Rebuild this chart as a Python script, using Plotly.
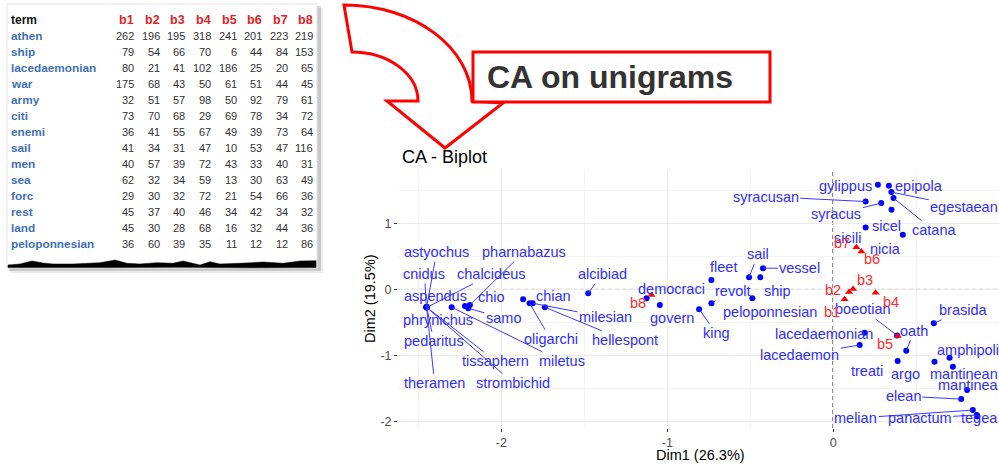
import plotly.graph_objects as go

W, H = 999, 466
FONT = "Liberation Sans, Arial, sans-serif"

# ---------------- table (left) ----------------
terms = ["athen", "ship", "lacedaemonian", "war", "army", "citi", "enemi", "sail",
         "men", "sea", "forc", "rest", "land", "peloponnesian"]
book_cols = ["b1", "b2", "b3", "b4", "b5", "b6", "b7", "b8"]
b1 = [262, 79, 80, 175, 32, 73, 36, 41, 40, 62, 29, 45, 45, 36]
b2 = [196, 54, 21, 68, 51, 70, 41, 34, 57, 32, 30, 37, 30, 60]
b3 = [195, 66, 41, 43, 57, 68, 55, 31, 39, 34, 32, 40, 28, 39]
b4 = [318, 70, 102, 50, 98, 29, 67, 47, 72, 59, 72, 46, 68, 35]
b5 = [241, 6, 186, 61, 50, 69, 49, 10, 43, 13, 21, 34, 16, 11]
b6 = [201, 44, 25, 51, 92, 78, 39, 53, 33, 30, 54, 42, 32, 12]
b7 = [223, 84, 20, 44, 79, 34, 73, 47, 40, 63, 66, 34, 44, 12]
b8 = [219, 153, 65, 45, 61, 72, 64, 116, 31, 49, 36, 32, 36, 86]

# ---------------- CA biplot ----------------
row_terms = ["astyochus", "cnidus", "chalcideus", "aspendus", "phrynichus", "pedaritus",
             "theramen", "tissaphern", "strombichid", "miletus", "pharnabazus", "chio",
             "samo", "chian", "oligarchi", "milesian", "hellespont", "alcibiad",
             "democraci", "govern", "fleet", "revolt", "king", "peloponnesian", "sail",
             "ship", "vessel", "syracusan", "gylippus", "epipola", "syracus", "egestaean",
             "catana", "sicel", "sicili", "nicia", "boeotian", "lacedaemonian",
             "lacedaemon", "oath", "brasida", "treati", "argo", "amphipoli", "mantinean",
             "mantinea", "elean", "melian", "panactum", "tegea"]
row_dim1 = [-2.451, -2.452, -2.450, -2.451, -2.452, -2.450, -2.451, -2.450, -2.452, -2.300,
            -2.190, -2.220, -2.200, -1.869, -1.830, -1.812, -1.738, -1.477,
            -1.125, -1.045, -0.734, -0.734, -0.808, -0.487, -0.507,
            -0.439, -0.423, 0.196, 0.270, 0.336, 0.290, 0.351,
            0.364, 0.352, 0.196, 0.420, 0.386, 0.190,
            0.160, 0.441, 0.607, 0.389, 0.611, 0.702, 0.722,
            0.808, 0.772, 0.842, 0.866, 0.870]
row_dim2 = [-0.270, -0.268, -0.272, -0.270, -0.271, -0.269, -0.270, -0.271, -0.269, -0.270,
            -0.235, -0.250, -0.285, -0.149, -0.209, -0.209, -0.270, -0.058,
            -0.134, -0.235, 0.144, -0.209, -0.300, -0.134, 0.185,
            0.185, 0.322, 1.332, 1.586, 1.571, 1.308, 1.475,
            1.384, 1.206, 0.938, 0.827, -0.698, -0.656,
            -0.842, -0.929, -0.513, -1.085, -1.096, -1.035, -1.171,
            -1.525, -1.662, -1.829, -1.904, -1.927]

col_dim1 = [0.069, 0.096, 0.120, 0.256, 0.390, 0.170, 0.140, -1.095]
col_dim2 = [-0.149, -0.038, 0.008, -0.049, -0.706, 0.574, 0.640, -0.083]

# label placement (repel-like offsets in pixels, +y is down) and whether a segment is drawn
row_label_layout = {
    "astyochus": (10, -55, True), "cnidus": (-2, -33, True), "chalcideus": (65, -33, True),
    "aspendus": (9, -11, False), "phrynichus": (12, 13, False), "pedaritus": (7, 34, True),
    "theramen": (8, 76, True), "tissaphern": (69, 54, True), "strombichid": (87, 76, True),
    "miletus": (110, 54, True), "pharnabazus": (54, -53, True), "chio": (27, -9, False),
    "samo": (35, 10, True), "chian": (30, -3, False), "oligarchi": (21, 36, True),
    "milesian": (73, 14, True), "hellespont": (80, 33, True), "alcibiad": (14, -19, True),
    "democraci": (25, -9, False), "govern": (12, 13, False), "fleet": (12, -13, False),
    "revolt": (21, -12, True), "king": (17, 24, True), "peloponnesian": (18, 14, False),
    "sail": (9, -23, True), "ship": (17, 14, False), "vessel": (37, 0, True),
    "syracusan": (-100, -5, True), "gylippus": (-32, 1, False), "epipola": (30, 0, False),
    "syracus": (-45, 11, True), "egestaean": (73, 15, True), "catana": (40, 32, True),
    "sicel": (-5, 16, False), "sicili": (-18, 10, False), "nicia": (-17, 14, False),
    "boeotian": (-34, -26, True), "lacedaemonian": (-41, 1, False),
    "lacedaemon": (-60, 10, True), "oath": (8, -20, True), "brasida": (29, -13, True),
    "treati": (-31, 10, False), "argo": (-29, 12, False), "amphipoli": (18, -8, False),
    "mantinean": (11, 7, False), "mantinea": (1, -5, False), "elean": (-58, -3, True),
    "melian": (-117, 8, True), "panactum": (-57, 3, True), "tegea": (2, 1, False),
}
col_label_layout = {
    "b1": (-13, 13), "b2": (-16, -2), "b3": (12, -9), "b4": (15, 9),
    "b5": (-13, 8), "b6": (11, 7), "b7": (-14, -4), "b8": (-14, 8),
}

x_ticks = [-2, -1, 0, 1]
x_ticktext = ["-2", "-1", "0", "1"]
y_ticks = [-2, -1, 0, 1]
y_ticktext = ["-2", "-1", "0", "1"]


def P(x, y):
    return f"{x / W:.5f},{1 - y / H:.5f}"


def px_x(x):
    return x / W


def px_y(y):
    return 1 - y / H


fig = go.Figure()

fig.add_trace(go.Scatter(x=row_dim1, y=row_dim2, mode="markers", text=row_terms,
                         marker=dict(color="#0000ff", size=6, symbol="circle"),
                         cliponaxis=False, hoverinfo="text"))
fig.add_trace(go.Scatter(x=col_dim1, y=col_dim2, mode="markers", text=book_cols,
                         marker=dict(color="#ff0000", size=7, symbol="triangle-up"),
                         cliponaxis=False, hoverinfo="text"))

annotations = []
BLUE_TXT = "#2e2eff"
BLUE_SEG = "#3a3aff"
RED_TXT = "#ff2a2a"
LBL = 14.5

for name, x, y in zip(row_terms, row_dim1, row_dim2):
    dx, dy, seg = row_label_layout[name]
    annotations.append(dict(
        x=x, y=y, xref="x", yref="y", text=name, showarrow=True,
        ax=dx, ay=dy, arrowhead=0, arrowwidth=1, standoff=0,
        arrowcolor=BLUE_SEG if seg else "rgba(0,0,0,0)",
        font=dict(family=FONT, size=LBL, color=BLUE_TXT)))

for name, x, y in zip(book_cols, col_dim1, col_dim2):
    dx, dy = col_label_layout[name]
    annotations.append(dict(
        x=x, y=y, xref="x", yref="y", text=name, showarrow=True,
        ax=dx, ay=dy, arrowhead=0, arrowwidth=1, arrowcolor="rgba(0,0,0,0)",
        font=dict(family=FONT, size=LBL, color=RED_TXT)))

# plot title and axis titles
annotations.append(dict(x=px_x(400), y=px_y(157), xref="paper", yref="paper",
                        text="CA - Biplot", showarrow=False, xanchor="left", yanchor="middle",
                        font=dict(family=FONT, size=18, color="#000000")))
annotations.append(dict(x=px_x(700), y=px_y(455), xref="paper", yref="paper",
                        text="Dim1 (26.3%)", showarrow=False, xanchor="center", yanchor="middle",
                        font=dict(family=FONT, size=14.5, color="#000000")))
annotations.append(dict(x=px_x(370), y=px_y(299), xref="paper", yref="paper",
                        text="Dim2 (19.5%)", showarrow=False, textangle=-90,
                        xanchor="center", yanchor="middle",
                        font=dict(family=FONT, size=14.5, color="#000000")))

# table text
row_y0, row_step = 36, 16
col_right = [136, 161.7, 187.3, 212.7, 238.7, 264.3, 290, 315.3]
annotations.append(dict(x=px_x(9), y=px_y(20), xref="paper", yref="paper", text="<b>term</b>",
                        showarrow=False, xanchor="left", yanchor="middle",
                        font=dict(family=FONT, size=12, color="#111111")))
for c, name in enumerate(book_cols):
    annotations.append(dict(x=px_x(col_right[c]), y=px_y(20), xref="paper", yref="paper",
                            text=f"<b>{name}</b>", showarrow=False, xanchor="right",
                            yanchor="middle",
                            font=dict(family=FONT, size=12.5, color="#e02424")))
cols_vals = [b1, b2, b3, b4, b5, b6, b7, b8]
for r, t in enumerate(terms):
    yy = row_y0 + r * row_step
    annotations.append(dict(x=px_x(9), y=px_y(yy), xref="paper", yref="paper",
                            text=f"<b>{t}</b>", showarrow=False, xanchor="left",
                            yanchor="middle",
                            font=dict(family=FONT, size=11.8, color="#3f6fb3")))
    for c in range(8):
        annotations.append(dict(x=px_x(col_right[c]), y=px_y(yy), xref="paper",
                                yref="paper", text=str(cols_vals[c][r]), showarrow=False,
                                xanchor="right", yanchor="middle",
                                font=dict(family=FONT, size=11, color="#333333")))

# title box text
annotations.append(dict(x=px_x(485), y=px_y(77), xref="paper", yref="paper",
                        text="<b>CA on unigrams</b>", showarrow=False, xanchor="left",
                        yanchor="middle",
                        font=dict(family=FONT, size=32, color="#333333")))

shapes = []
# table shadow + card
shapes.append(dict(type="rect", xref="paper", yref="paper", x0=px_x(10), x1=px_x(323),
                   y0=px_y(273), y1=px_y(8), fillcolor="rgba(0,0,0,0.07)", line=dict(width=0),
                   layer="below"))
shapes.append(dict(type="rect", xref="paper", yref="paper", x0=px_x(9), x1=px_x(321),
                   y0=px_y(271), y1=px_y(6), fillcolor="rgba(0,0,0,0.15)", line=dict(width=0),
                   layer="below"))
shapes.append(dict(type="rect", xref="paper", yref="paper", x0=px_x(7), x1=px_x(317),
                   y0=px_y(268), y1=px_y(4), fillcolor="#ffffff",
                   line=dict(color="#e4e4e4", width=1), layer="below"))
# torn bottom strip
top_edge = [(8, 265), (20, 264), (32, 261), (43, 263), (53, 264), (73, 264), (100, 262.7),
            (115, 260), (127, 263.3), (140, 264), (157, 262.7), (173, 263.3), (183, 261),
            (200, 265), (210, 261.7), (220, 264), (240, 263.3), (263, 262), (283, 263.3),
            (300, 261), (316, 260.7)]
bottom_edge = [(316, 267.5), (250, 267.8), (180, 267.3), (110, 267.6), (50, 267.4), (8, 267.6)]
strip = "M " + " L ".join(P(x, y) for x, y in top_edge + bottom_edge) + " Z"
shapes.append(dict(type="path", xref="paper", yref="paper", path=strip,
                   fillcolor="#000000", line=dict(color="#000000", width=0.5), layer="below"))

# curved arrow
arrow = (f"M {P(344, 5)} C {P(414.7, 5)} {P(472, 48)} {P(472, 101)} "
         f"L {P(503, 103)} L {P(445, 148)} L {P(387, 101)} L {P(418, 101)} "
         f"C {P(418, 74)} {P(388.4, 52)} {P(352, 52)} Z")
shapes.append(dict(type="path", xref="paper", yref="paper", path=arrow,
                   fillcolor="#ffffff", line=dict(color="#ff0000", width=3), layer="above"))
# title box
shapes.append(dict(type="rect", xref="paper", yref="paper", x0=px_x(473), x1=px_x(770),
                   y0=px_y(102), y1=px_y(52), fillcolor="#ffffff",
                   line=dict(color="#ff0000", width=3), layer="above"))

# dashed reference lines
shapes.append(dict(type="line", xref="paper", yref="y", x0=px_x(398), x1=1, y0=0, y1=0,
                   line=dict(color="#000000", width=1, dash="4px,3px"), layer="below"))
shapes.append(dict(type="line", xref="x", yref="paper", x0=0, x1=0,
                   y0=px_y(428), y1=px_y(170),
                   line=dict(color="#555555", width=1.6, dash="4px,3px"), layer="below"))

fig.update_layout(
    width=W, height=H, autosize=False,
    margin=dict(l=0, r=0, t=0, b=0, pad=0),
    paper_bgcolor="#ffffff", plot_bgcolor="#ffffff",
    showlegend=False,
    annotations=annotations, shapes=shapes,
    xaxis=dict(domain=[398 / W, 1.0], range=[-2.6235, 1.0], tickvals=x_ticks,
               ticktext=x_ticktext, showgrid=True, gridcolor="#ebebeb", gridwidth=1,
               minor=dict(tickvals=[-2.5, -1.5, -0.5, 0.5], showgrid=True,
                          gridcolor="#f4f4f4", gridwidth=0.6),
               zeroline=False, showline=False, ticks="outside", ticklen=3,
               tickcolor="#333333", tickfont=dict(family=FONT, size=12.5, color="#4d4d4d"),
               fixedrange=True),
    yaxis=dict(domain=[1 - 428 / H, 1 - 170 / H], range=[-2.10, 1.81], tickvals=y_ticks,
               ticktext=y_ticktext, showgrid=True, gridcolor="#ebebeb", gridwidth=1,
               minor=dict(tickvals=[-1.5, -0.5, 0.5, 1.5], showgrid=True,
                          gridcolor="#f4f4f4", gridwidth=0.6),
               zeroline=False, showline=False, ticks="outside", ticklen=3,
               tickcolor="#333333", tickfont=dict(family=FONT, size=12.5, color="#4d4d4d"),
               fixedrange=True),
)

fig.write_html("out.html", config={"displayModeBar": False},
               post_script="document.body.style.margin='0';document.body.style.overflow='hidden';")
